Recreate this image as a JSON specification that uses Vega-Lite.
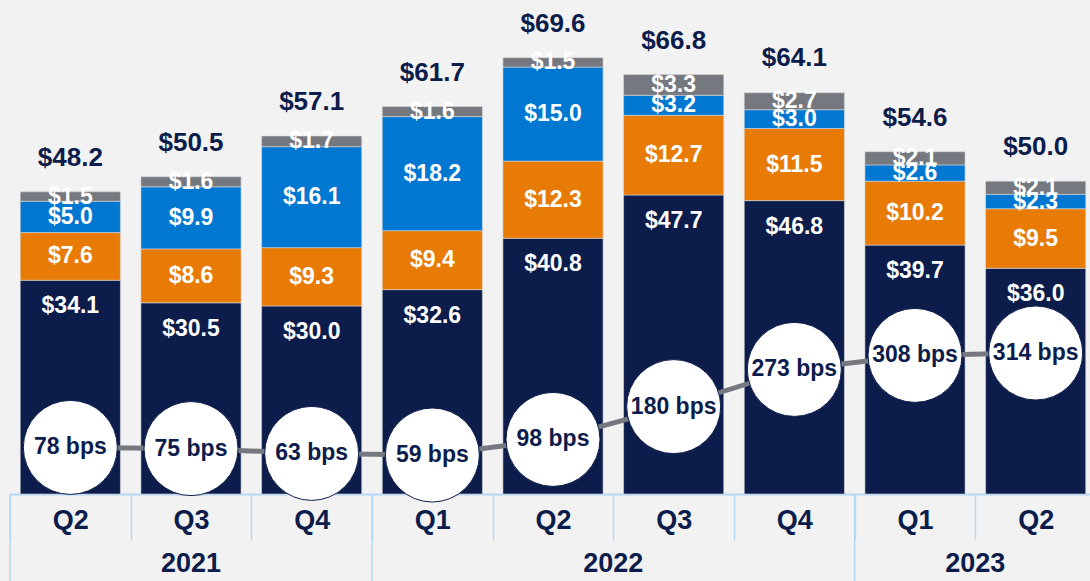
{
  "$schema": "https://vega.github.io/schema/vega-lite/v6.json",
  "autosize": {"type": "none"},
  "width": 1080,
  "height": 494,
  "padding": {"left": 10, "top": 0, "right": 0, "bottom": 87},
  "background": "#f2f2f2",
  "config": {"view": {"stroke": null}, "font": "Liberation Sans"},
  "datasets": {
    "segs": [
      {"q": "2021 Q2", "s": "s1", "o": 1, "v": 34.1}, {"q": "2021 Q2", "s": "s2", "o": 2, "v": 7.6}, {"q": "2021 Q2", "s": "s3", "o": 3, "v": 5.0}, {"q": "2021 Q2", "s": "s4", "o": 4, "v": 1.5},
      {"q": "2021 Q3", "s": "s1", "o": 1, "v": 30.5}, {"q": "2021 Q3", "s": "s2", "o": 2, "v": 8.6}, {"q": "2021 Q3", "s": "s3", "o": 3, "v": 9.9}, {"q": "2021 Q3", "s": "s4", "o": 4, "v": 1.6},
      {"q": "2021 Q4", "s": "s1", "o": 1, "v": 30.0}, {"q": "2021 Q4", "s": "s2", "o": 2, "v": 9.3}, {"q": "2021 Q4", "s": "s3", "o": 3, "v": 16.1}, {"q": "2021 Q4", "s": "s4", "o": 4, "v": 1.7},
      {"q": "2022 Q1", "s": "s1", "o": 1, "v": 32.6}, {"q": "2022 Q1", "s": "s2", "o": 2, "v": 9.4}, {"q": "2022 Q1", "s": "s3", "o": 3, "v": 18.2}, {"q": "2022 Q1", "s": "s4", "o": 4, "v": 1.6},
      {"q": "2022 Q2", "s": "s1", "o": 1, "v": 40.8}, {"q": "2022 Q2", "s": "s2", "o": 2, "v": 12.3}, {"q": "2022 Q2", "s": "s3", "o": 3, "v": 15.0}, {"q": "2022 Q2", "s": "s4", "o": 4, "v": 1.5},
      {"q": "2022 Q3", "s": "s1", "o": 1, "v": 47.7}, {"q": "2022 Q3", "s": "s2", "o": 2, "v": 12.7}, {"q": "2022 Q3", "s": "s3", "o": 3, "v": 3.2}, {"q": "2022 Q3", "s": "s4", "o": 4, "v": 3.3},
      {"q": "2022 Q4", "s": "s1", "o": 1, "v": 46.8}, {"q": "2022 Q4", "s": "s2", "o": 2, "v": 11.5}, {"q": "2022 Q4", "s": "s3", "o": 3, "v": 3.0}, {"q": "2022 Q4", "s": "s4", "o": 4, "v": 2.7},
      {"q": "2023 Q1", "s": "s1", "o": 1, "v": 39.7}, {"q": "2023 Q1", "s": "s2", "o": 2, "v": 10.2}, {"q": "2023 Q1", "s": "s3", "o": 3, "v": 2.6}, {"q": "2023 Q1", "s": "s4", "o": 4, "v": 2.1},
      {"q": "2023 Q2", "s": "s1", "o": 1, "v": 36.0}, {"q": "2023 Q2", "s": "s2", "o": 2, "v": 9.5}, {"q": "2023 Q2", "s": "s3", "o": 3, "v": 2.3}, {"q": "2023 Q2", "s": "s4", "o": 4, "v": 2.1}
    ],
    "totals": [
      {"q": "2021 Q2", "t": 48.2}, {"q": "2021 Q3", "t": 50.5}, {"q": "2021 Q4", "t": 57.1},
      {"q": "2022 Q1", "t": 61.7}, {"q": "2022 Q2", "t": 69.6}, {"q": "2022 Q3", "t": 66.8},
      {"q": "2022 Q4", "t": 64.1}, {"q": "2023 Q1", "t": 54.6}, {"q": "2023 Q2", "t": 50.0}
    ],
    "bps": [
      {"q": "2021 Q2", "b": 78}, {"q": "2021 Q3", "b": 75}, {"q": "2021 Q4", "b": 63},
      {"q": "2022 Q1", "b": 59}, {"q": "2022 Q2", "b": 98}, {"q": "2022 Q3", "b": 180},
      {"q": "2022 Q4", "b": 273}, {"q": "2023 Q1", "b": 308}, {"q": "2023 Q2", "b": 314}
    ],
    "yearRules": [{"q": "2021 Q2"}, {"q": "2022 Q1"}, {"q": "2023 Q1"}],
    "yearA": [{"q": "2021 Q3", "yr": "2021"}],
    "yearB": [{"q": "2022 Q3", "yr": "2022"}, {"q": "2023 Q2", "yr": "2023"}]
  },
  "resolve": {"scale": {"y": "independent"}},
  "layer": [
    {
      "data": {"name": "segs"},
      "transform": [
        {"stack": "v", "groupby": ["q"], "sort": [{"field": "o", "order": "ascending"}], "as": ["v0", "v1"]}
      ],
      "mark": {"type": "bar", "width": {"band": 0.83}, "stroke": "#d6d6d6", "strokeWidth": 0.6},
      "encoding": {
        "x": {
          "field": "q", "type": "nominal",
          "scale": {"domain": ["2021 Q2", "2021 Q3", "2021 Q4", "2022 Q1", "2022 Q2", "2022 Q3", "2022 Q4", "2023 Q1", "2023 Q2"], "range": [0, 1086], "paddingInner": 0, "paddingOuter": 0},
          "axis": {
            "title": null, "labelExpr": "split(datum.label, ' ')[1]", "labelAngle": 0,
            "domain": true, "ticks": true, "labels": true,
            "domainColor": "#b4d8f5", "domainWidth": 2,
            "tickColor": "#b4d8f5", "tickWidth": 1.5, "tickSize": 46, "tickBand": "extent",
            "labelFont": "Liberation Sans", "labelFontWeight": "bold", "labelFontSize": 27,
            "labelColor": "#0c1c4b", "labelPadding": -20, "labelBaseline": "middle", "grid": false
          }
        },
        "y": {"field": "v1", "type": "quantitative", "scale": {"domain": [0, 78.8], "nice": false, "zero": false}, "axis": null},
        "y2": {"field": "v0"},
        "color": {"field": "s", "type": "nominal", "scale": {"domain": ["s1", "s2", "s3", "s4"], "range": ["#0c1c4b", "#e87a06", "#0078d2", "#75787f"]}, "legend": null}
      }
    },
    {
      "data": {"name": "segs"},
      "transform": [
        {"stack": "v", "groupby": ["q"], "sort": [{"field": "o", "order": "ascending"}], "as": ["v0", "v1"]},
        {"calculate": "(datum.v0 + datum.v1) / 2", "as": "vm"},
        {"filter": "datum.s != 's1'"}
      ],
      "mark": {"type": "text", "color": "white", "fontSize": 23, "fontWeight": "bold", "baseline": "middle", "font": "Liberation Sans"},
      "encoding": {
        "x": {"field": "q", "type": "nominal"},
        "y": {"field": "vm", "type": "quantitative", "scale": {"domain": [0, 78.8], "nice": false, "zero": false}, "axis": null},
        "text": {"field": "v", "type": "quantitative", "format": "$.1f"}
      }
    },
    {
      "data": {"name": "segs"},
      "transform": [
        {"stack": "v", "groupby": ["q"], "sort": [{"field": "o", "order": "ascending"}], "as": ["v0", "v1"]},
        {"filter": "datum.s == 's1'"}
      ],
      "mark": {"type": "text", "color": "white", "fontSize": 23, "fontWeight": "bold", "baseline": "middle", "dy": 26, "font": "Liberation Sans"},
      "encoding": {
        "x": {"field": "q", "type": "nominal"},
        "y": {"field": "v1", "type": "quantitative", "scale": {"domain": [0, 78.8], "nice": false, "zero": false}, "axis": null},
        "text": {"field": "v", "type": "quantitative", "format": "$.1f"}
      }
    },
    {
      "data": {"name": "totals"},
      "mark": {"type": "text", "color": "#0c1c4b", "fontSize": 26, "fontWeight": "bold", "baseline": "middle", "dy": -34, "font": "Liberation Sans"},
      "encoding": {
        "x": {"field": "q", "type": "nominal"},
        "y": {"field": "t", "type": "quantitative", "scale": {"domain": [0, 78.8], "nice": false, "zero": false}, "axis": null},
        "text": {"field": "t", "type": "quantitative", "format": "$.1f"}
      }
    },
    {
      "data": {"name": "bps"},
      "mark": {"type": "line", "color": "#75787f", "strokeWidth": 5},
      "encoding": {
        "x": {"field": "q", "type": "nominal"},
        "y": {"field": "b", "type": "quantitative", "scale": {"domain": [-38.5, 1196.5], "nice": false, "zero": false}, "axis": null}
      }
    },
    {
      "data": {"name": "bps"},
      "mark": {"type": "circle", "size": 8836, "fill": "white", "stroke": "#0c1c4b", "strokeWidth": 1, "opacity": 1, "fillOpacity": 1},
      "encoding": {
        "x": {"field": "q", "type": "nominal"},
        "y": {"field": "b", "type": "quantitative", "scale": {"domain": [-38.5, 1196.5], "nice": false, "zero": false}, "axis": null}
      }
    },
    {
      "data": {"name": "bps"},
      "transform": [{"calculate": "datum.b + ' bps'", "as": "lbl"}],
      "mark": {"type": "text", "color": "#0c1c4b", "fontSize": 23, "fontWeight": "bold", "baseline": "middle", "font": "Liberation Sans"},
      "encoding": {
        "x": {"field": "q", "type": "nominal"},
        "y": {"field": "b", "type": "quantitative", "scale": {"domain": [-38.5, 1196.5], "nice": false, "zero": false}, "axis": null},
        "text": {"field": "lbl", "type": "nominal"}
      }
    },
    {
      "data": {"name": "yearRules"},
      "mark": {"type": "rule", "color": "#b4d8f5", "strokeWidth": 1.5},
      "encoding": {
        "x": {"field": "q", "type": "nominal", "bandPosition": 0},
        "y": {"datum": 0, "type": "quantitative", "scale": {"domain": [0, 78.8], "nice": false, "zero": false}, "axis": null},
        "y2": {"datum": -14}
      }
    },
    {
      "data": {"name": "yearA"},
      "mark": {"type": "text", "color": "#0c1c4b", "fontSize": 27, "fontWeight": "bold", "baseline": "middle", "font": "Liberation Sans"},
      "encoding": {
        "x": {"field": "q", "type": "nominal", "bandPosition": 0.5},
        "y": {"datum": -11.2, "type": "quantitative", "scale": {"domain": [0, 78.8], "nice": false, "zero": false}, "axis": null},
        "text": {"field": "yr", "type": "nominal"}
      }
    },
    {
      "data": {"name": "yearB"},
      "mark": {"type": "text", "color": "#0c1c4b", "fontSize": 27, "fontWeight": "bold", "baseline": "middle", "font": "Liberation Sans"},
      "encoding": {
        "x": {"field": "q", "type": "nominal", "bandPosition": 0},
        "y": {"datum": -11.2, "type": "quantitative", "scale": {"domain": [0, 78.8], "nice": false, "zero": false}, "axis": null},
        "text": {"field": "yr", "type": "nominal"}
      }
    }
  ]
}
